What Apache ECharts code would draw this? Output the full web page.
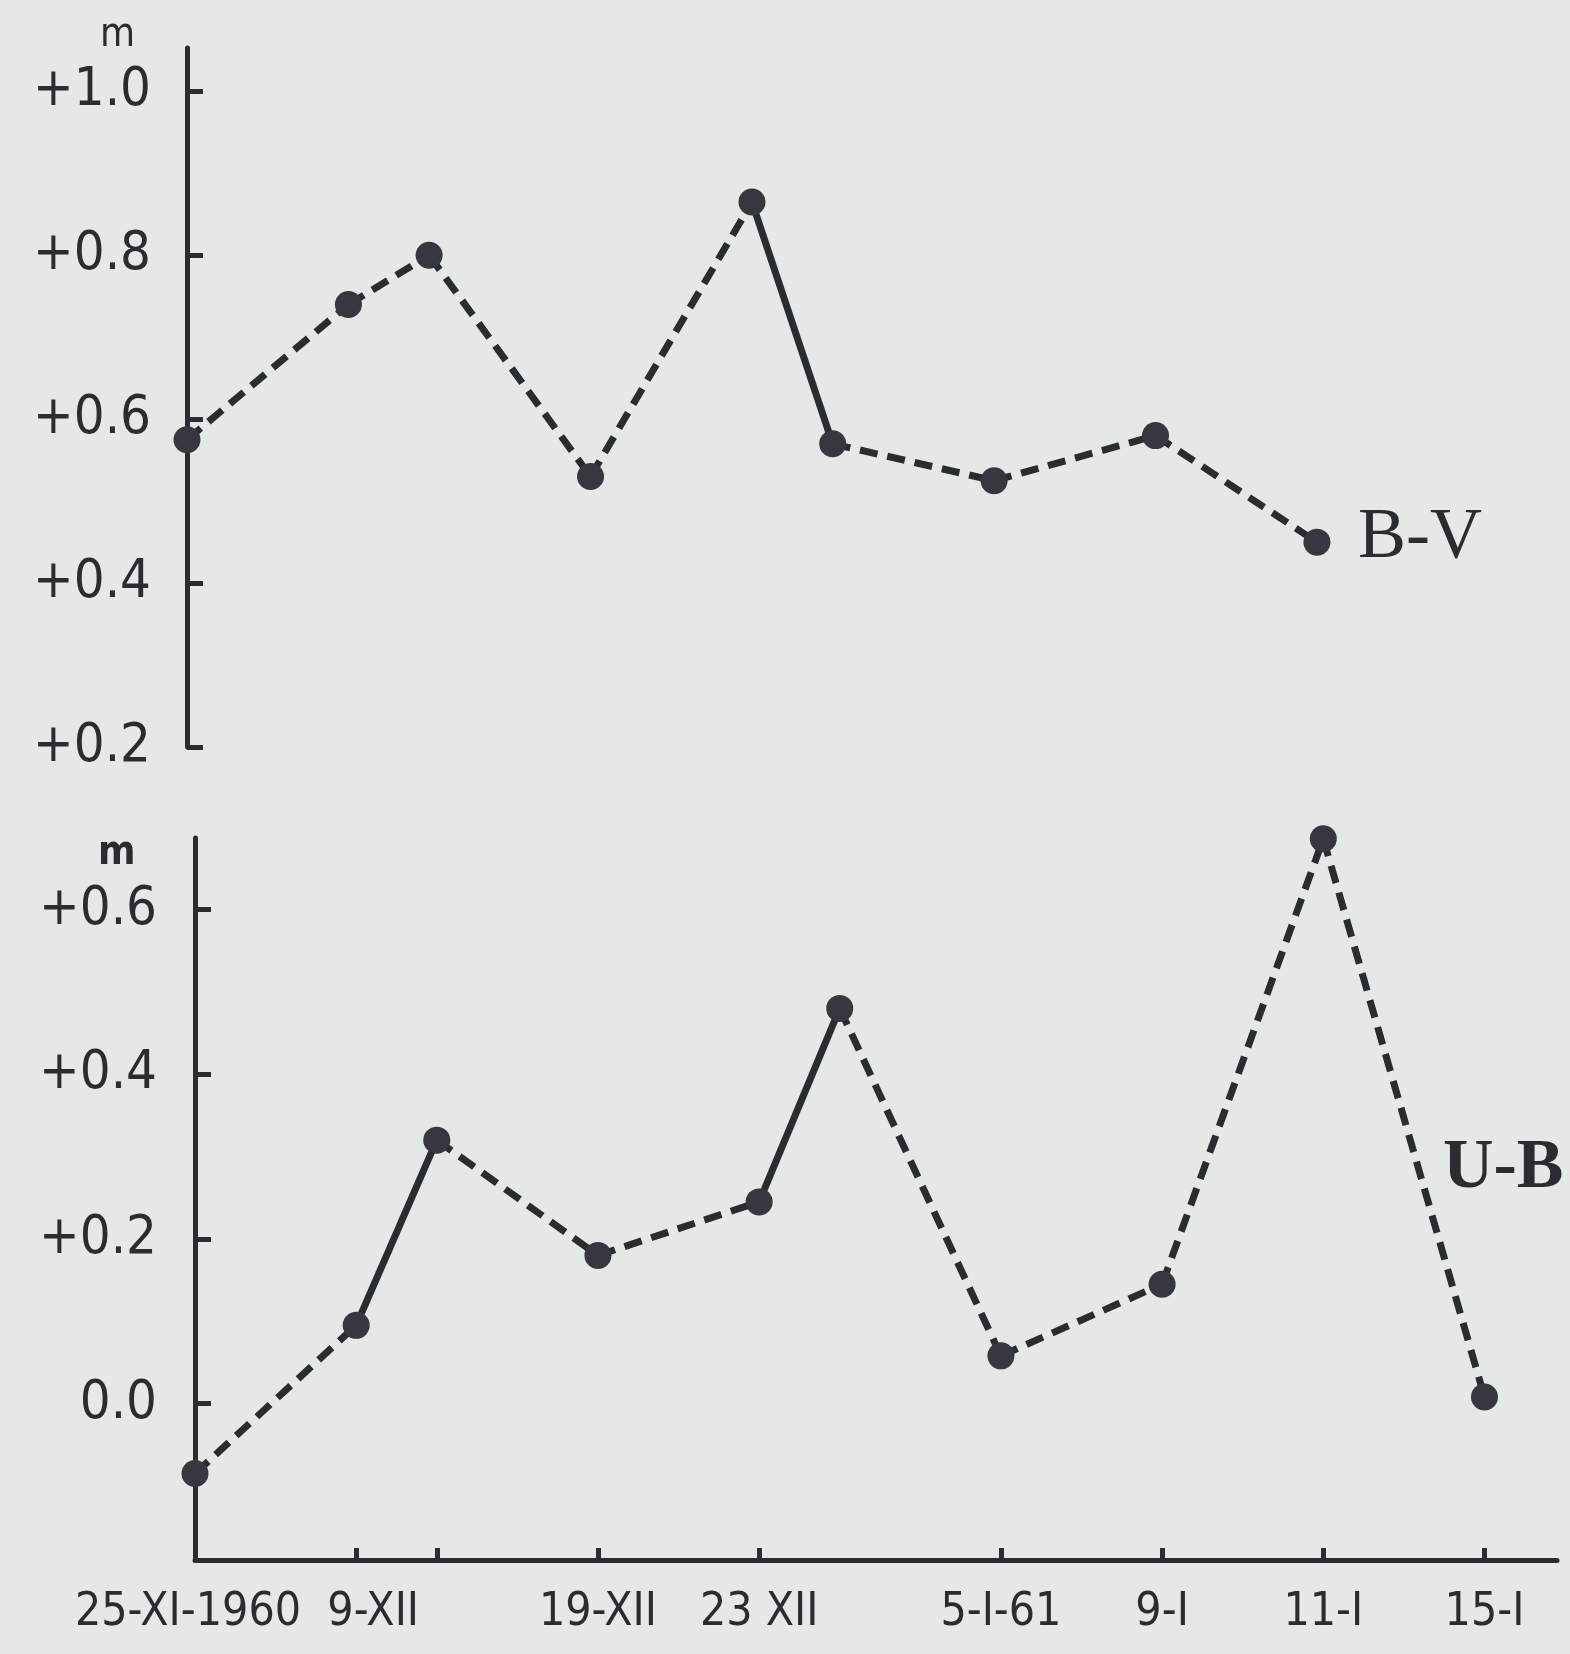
<!DOCTYPE html>
<html>
<head>
<meta charset="utf-8">
<script src="https://cdn.jsdelivr.net/npm/echarts@6/dist/echarts.min.js"></script>
<style>
  html, body { margin: 0; padding: 0; background: #e4e8e6; }
  #chart { width: 1570px; height: 1654px; }
</style>
</head>
<body>
<div id="chart"></div>
<script>
// ---- data ----
// observation positions along the (non-uniform) date axis, in tick slots
const bvSlots = [0, 2, 3, 5, 7, 8, 10, 12, 14];
const ubSlots = [0, 2, 3, 5, 7, 8, 10, 12, 14, 16];
const bvValues = [0.575, 0.74, 0.80, 0.53, 0.865, 0.57, 0.525, 0.58, 0.45];
const ubValues = [-0.085, 0.095, 0.32, 0.18, 0.245, 0.48, 0.058, 0.145, 0.686, 0.008];
// line style of each segment between consecutive observations
const bvSegments = ['dashed', 'dashed', 'dashed', 'dashed', 'solid', 'dashed', 'dashed', 'dashed'];
const ubSegments = ['dashed', 'solid', 'dashed', 'dashed', 'solid', 'dashed', 'dashed', 'dashed', 'dashed'];
// x axis ticks and labels
const xTickSlots = [2, 3, 5, 7, 10, 12, 14, 16];
const xLabelSlots = [0, 2, 5, 7, 10, 12, 14, 16];
const xLabels = ['25-XI-1960', '9-XII', '19-XII', '23 XII', '5-I-61', '9-I', '11-I', '15-I'];
// y axis ticks and labels
const bvTicks = [0.2, 0.4, 0.6, 0.8, 1.0];
const bvTickLabels = ['+0.2', '+0.4', '+0.6', '+0.8', '+1.0'];
const ubTicks = [0.0, 0.2, 0.4, 0.6];
const ubTickLabels = ['0.0', '+0.2', '+0.4', '+0.6'];

// ---- styling ----
const INK = '#2c2c30';
const DOT = '#38363e';
const BG = '#e4e8e6';
const NARROW = '"Liberation Sans Narrow", "DejaVu Sans Condensed", "Roboto", sans-serif';
const XFONT = 46;

function lookup(vals, labels) {
  return function (v) {
    for (let i = 0; i < vals.length; i++) {
      if (Math.abs(vals[i] - v) < 1e-6) return labels[i];
    }
    return '';
  };
}
const xLabelOf = lookup(xLabelSlots, xLabels);
function xLabelFormatter(v) {
  const t = xLabelOf(v);
  if (Math.abs(v - xLabelSlots[0]) < 1e-6) return '{l|' + t + '}';
  if (Math.abs(v - xLabelSlots[1]) < 1e-6) return '{r|' + t + '}';
  return t;
}

const chart = echarts.init(document.getElementById('chart'), null, { renderer: 'canvas' });

const series = [];
function addSegments(slots, values, styles, axisIdx) {
  for (let i = 0; i < styles.length; i++) {
    series.push({
      type: 'line',
      xAxisIndex: axisIdx, yAxisIndex: axisIdx,
      data: [[slots[i], values[i]], [slots[i + 1], values[i + 1]]],
      symbol: 'none',
      silent: true,
      animation: false,
      lineStyle: {
        color: INK, width: 7, opacity: 1,
        type: styles[i] === 'dashed' ? [18, 10] : 'solid',
        cap: 'butt'
      },
      z: 3
    });
  }
  series.push({
    type: 'scatter',
    xAxisIndex: axisIdx, yAxisIndex: axisIdx,
    data: slots.map((s, i) => [s, values[i]]),
    symbol: 'circle', symbolSize: 27,
    itemStyle: { color: DOT, opacity: 1 },
    animation: false,
    z: 4
  });
}
addSegments(bvSlots, bvValues, bvSegments, 0);
addSegments(ubSlots, ubValues, ubSegments, 1);

const yAxisCommon = {
  type: 'value',
  axisLine: { show: true, lineStyle: { color: INK, width: 5 } },
  axisTick: { show: true, inside: true, length: 16, lineStyle: { color: INK, width: 5 } },
  splitLine: { show: false },
  axisLabel: { color: INK, fontFamily: NARROW, fontSize: 54, margin: 36, showMinLabel: true, showMaxLabel: true }
};

const option = {
  backgroundColor: BG,
  animation: false,
  grid: [
    { left: 187, top: 48, width: 1364, height: 699 },
    { left: 195, top: 838, width: 1362, height: 722 }
  ],
  xAxis: [
    {
      gridIndex: 0, type: 'value', min: 0, max: 16.9,
      show: false
    },
    {
      gridIndex: 1, type: 'value', min: 0, max: 16.9,
      axisLine: { show: true, onZero: false, lineStyle: { color: INK, width: 5 } },
      axisTick: { show: true, inside: true, length: 12, customValues: xTickSlots, lineStyle: { color: INK, width: 5 } },
      splitLine: { show: false },
      axisLabel: {
        color: INK, fontFamily: NARROW, fontSize: XFONT, margin: 30,
        showMinLabel: true, showMaxLabel: true, hideOverlap: false,
        customValues: xLabelSlots,
        formatter: xLabelFormatter,
        rich: {
          l: { color: INK, fontFamily: NARROW, fontSize: XFONT, padding: [0, 14, 0, 0] },
          r: { color: INK, fontFamily: NARROW, fontSize: XFONT, padding: [0, 0, 0, 34] }
        }
      }
    }
  ],
  yAxis: [
    Object.assign({}, yAxisCommon, {
      gridIndex: 0, min: 0.2, max: 1.053,
      axisTick: Object.assign({}, yAxisCommon.axisTick, { customValues: bvTicks }),
      axisLabel: Object.assign({}, yAxisCommon.axisLabel, { customValues: bvTicks, formatter: lookup(bvTicks, bvTickLabels) })
    }),
    Object.assign({}, yAxisCommon, {
      gridIndex: 1, min: -0.19, max: 0.687,
      axisTick: Object.assign({}, yAxisCommon.axisTick, { customValues: ubTicks }),
      axisLabel: Object.assign({}, yAxisCommon.axisLabel, { margin: 38, customValues: ubTicks, formatter: lookup(ubTicks, ubTickLabels) })
    })
  ],
  graphic: [
    { type: 'text', left: 100, top: 16, style: { text: 'm', font: '40px ' + NARROW, fill: INK } },
    { type: 'text', left: 98, top: 834, style: { text: 'm', font: 'bold 40px ' + NARROW, fill: INK } },
    { type: 'text', left: 1358, top: 502, style: { text: 'B-V', font: '72px "Liberation Serif", "DejaVu Serif", serif', fill: INK } },
    { type: 'text', left: 1443, top: 1134, style: { text: 'U-B', font: 'bold 70px "Liberation Serif", "DejaVu Serif", serif', fill: INK } }
  ],
  series: series
};

chart.setOption(option);
</script>
</body>
</html>
